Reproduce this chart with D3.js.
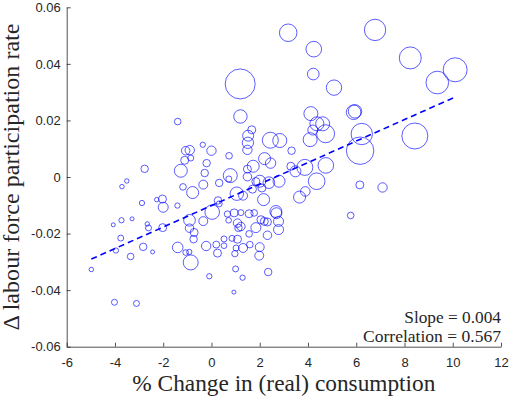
<!DOCTYPE html>
<html><head><meta charset="utf-8">
<script src="https://cdn.jsdelivr.net/npm/d3@7"></script>
<style>body{margin:0;background:#fff}</style>
</head><body><svg id="chart" width="512" height="396"></svg>
<script>
const consumptionChange = [
1.19,1.20,-1.40,1.67,1.52,1.51,1.49,-0.36,0.00,-1.07,
-0.90,-0.86,-1.11,0.73,-0.20,1.73,-2.77,-1.27,-0.28,1.49,
0.78,0.72,1.49,-0.34,0.32,-1.18,-0.78,1.05,1.31,1.70,
1.84,-3.71,-3.51,-2.03,-2.27,-2.88,-2.00,-1.41,0.03,0.27,
0.32,-4.07,-3.73,-3.29,-2.66,-2.61,-2.02,-0.91,-0.91,-0.72,
-0.74,-0.34,0.66,0.71,0.94,1.22,1.56,1.08,1.22,1.12,
1.77,1.84,1.56,-3.76,-3.96,-2.83,-2.44,-1.40,-1.07,-0.92,
-0.86,-0.22,0.20,0.25,0.52,0.52,0.85,0.97,1.08,1.02,
1.31,1.59,2.00,1.98,-4.98,-4.02,-3.11,-3.35,-0.09,1.00,
1.29,0.93,3.18,6.78,4.24,4.22,5.08,8.24,9.36,10.10,
4.12,5.89,5.95,4.37,4.61,4.20,4.73,4.09,6.23,6.16,
8.43,2.44,2.83,3.32,2.20,2.45,3.29,3.48,3.87,4.74,
4.36,2.00,2.38,2.80,2.09,6.15,7.09,3.89,3.65,2.16,
2.67,2.69,2.78,2.78,2.05,2.19,2.32,2.32,2.35,5.77];
const participationChange = [
0.0329,0.0214,0.0196,0.0167,0.0146,0.0121,0.0096,0.0114,0.0093,0.0093,
0.0095,0.0067,0.0059,0.0075,0.0049,0.0038,0.0029,0.0022,0.0014,0.0028,
0.0005,-0.0007,0.0001,-0.0027,-0.0021,-0.0035,-0.0055,-0.0059,-0.0066,-0.0043,
-0.0016,-0.0034,-0.0014,-0.0078,-0.0080,-0.0092,-0.0107,-0.0101,-0.0124,-0.0083,
-0.0095,-0.0169,-0.0153,-0.0148,-0.0166,-0.0180,-0.0179,-0.0153,-0.0181,-0.0196,
-0.0220,-0.0156,-0.0131,-0.0153,-0.0127,-0.0126,-0.0130,-0.0163,-0.0175,-0.0180,
-0.0127,-0.0179,-0.0201,-0.0216,-0.0260,-0.0247,-0.0265,-0.0249,-0.0267,-0.0265,
-0.0302,-0.0244,-0.0239,-0.0269,-0.0219,-0.0243,-0.0217,-0.0271,-0.0220,-0.0251,
-0.0251,-0.0239,-0.0248,-0.0278,-0.0327,-0.0443,-0.0447,-0.0281,-0.0351,-0.0325,
-0.0356,-0.0407,0.0510,0.0520,0.0452,0.0364,0.0316,0.0421,0.0334,0.0379,
0.0224,0.0229,0.0232,0.0188,0.0188,0.0166,0.0153,0.0132,0.0152,0.0093,
0.0145,0.0130,0.0129,0.0093,0.0065,0.0049,0.0038,0.0020,0.0034,0.0041,
-0.0015,-0.0015,-0.0020,-0.0015,-0.0039,-0.0028,-0.0037,-0.0051,-0.0071,-0.0080,
-0.0122,-0.0128,-0.0157,-0.0186,-0.0151,-0.0157,-0.0159,-0.0206,-0.0336,-0.0136];
const weights = [
225,45,11,16,30,32,22,7,22,18,
22,9,16,11,14,36,14,42,14,16,
49,9,18,20,14,11,36,45,20,16,
16,5,5,16,5,7,25,7,53,14,
9,4,7,4,5,9,16,34,18,16,
14,20,10,8,16,9,16,18,18,14,
11,25,11,9,7,14,4,28,8,7,
56,22,12,16,9,8,9,10,16,9,
20,11,20,20,5,9,9,11,7,9,
7,4,77,114,61,34,59,121,128,144,
49,53,45,49,49,25,81,49,114,188,
169,64,49,14,36,27,16,30,64,61,
69,36,34,36,16,16,22,23,36,36,
36,30,25,25,16,16,16,18,14,11];
const xTicks = [-6,-4,-2,0,2,4,6,8,10,12];
const xTickLabels = ["-6","-4","-2","0","2","4","6","8","10","12"];
const yTicks = [-0.06,-0.04,-0.02,0,0.02,0.04,0.06];
const yTickLabels = ["-0.06","-0.04","-0.02","0","0.02","0.04","0.06"];
const fitSlope = 0.0038;
const fitIntercept = -0.0101;
const statLabels = ["Slope = 0.004", "Correlation = 0.567"];
const xTitle = "% Change in (real) consumption";
const yTitle = "\u0394 labour force participation rate";

const svg = d3.select("#chart");
const L = 66.7, R = 501, T = 7.3, B = 346.7;
const x = d3.scaleLinear().domain([-6, 12]).range([L, R]);
const y = d3.scaleLinear().domain([-0.06, 0.06]).range([B, T]);
const r = d3.scaleSqrt().domain([0, 225]).range([0, 15]);
const axisColor = "#262626";

const pts = consumptionChange.map((v, i) => ({x: v, y: participationChange[i], w: weights[i]}));

svg.append("g").selectAll("circle").data(pts).join("circle")
  .attr("cx", d => x(d.x)).attr("cy", d => y(d.y)).attr("r", d => r(d.w))
  .attr("fill", "none").attr("stroke", "#0000ff").attr("stroke-width", 0.8).attr("stroke-opacity", 0.8);

const ext = d3.extent(consumptionChange);
svg.append("line")
  .attr("x1", x(ext[0])).attr("y1", y(fitIntercept + fitSlope * ext[0]))
  .attr("x2", x(ext[1])).attr("y2", y(fitIntercept + fitSlope * ext[1]))
  .attr("stroke", "#0000ff").attr("stroke-width", 1.6).attr("stroke-dasharray", "6,4");

const xAxis = d3.axisBottom(x).tickValues(xTicks).tickFormat((d, i) => xTickLabels[i])
  .tickSizeInner(-4).tickSizeOuter(0).tickPadding(11);
const gx = svg.append("g").attr("transform", `translate(0,${B})`).call(xAxis);
const yAxis = d3.axisLeft(y).tickValues(yTicks).tickFormat((d, i) => yTickLabels[i])
  .tickSizeInner(-4).tickSizeOuter(0).tickPadding(6);
const gy = svg.append("g").attr("transform", `translate(${L},0)`).call(yAxis);
[gx, gy].forEach(g => {
  g.select(".domain").attr("stroke", axisColor).attr("stroke-width", 0.8);
  g.selectAll(".tick line").attr("stroke", axisColor).attr("stroke-width", 0.8);
  g.selectAll(".tick text").attr("fill", axisColor)
    .style("font-family", "'Liberation Sans', Arial, sans-serif").style("font-size", "13px");
});

const serif = "'Liberation Serif', 'Times New Roman', serif";
svg.append("text").attr("x", (L + R) / 2).attr("y", 390.5)
  .attr("text-anchor", "middle").style("font-family", serif).style("font-size", "23px")
  .attr("fill", axisColor).attr("textLength", 303).attr("lengthAdjust", "spacingAndGlyphs")
  .text(xTitle);
svg.append("text").attr("transform", `translate(18.5,${(T + B) / 2}) rotate(-90)`)
  .attr("text-anchor", "middle").style("font-family", serif).style("font-size", "23px")
  .attr("fill", axisColor).attr("textLength", 307).attr("lengthAdjust", "spacingAndGlyphs")
  .text(yTitle);

const statY = [322.7, 341.7];
const statW = [96.7, 138];
statLabels.forEach((s, i) => {
  svg.append("text").attr("x", R).attr("y", statY[i]).attr("text-anchor", "end")
    .style("font-family", serif).style("font-size", "16.5px").attr("fill", axisColor)
    .attr("textLength", statW[i]).attr("lengthAdjust", "spacingAndGlyphs").text(s);
});
</script></body></html>
